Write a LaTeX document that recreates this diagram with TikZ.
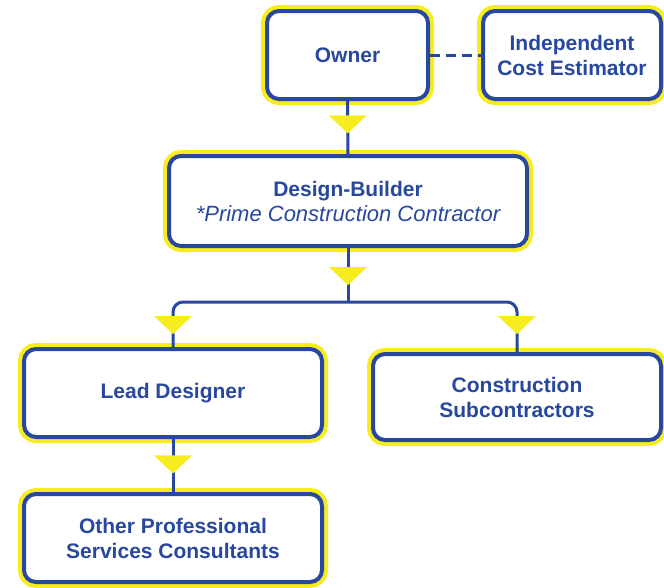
\documentclass[tikz,border=0pt]{standalone}
\usepackage{fontspec}
\setmainfont{Liberation Sans}
\usetikzlibrary{calc}
\definecolor{dbblue}{RGB}{40,72,160}
\definecolor{dbyellow}{RGB}{246,236,30}
\tikzset{
  box/.style={preaction={draw=dbyellow,line width=12pt},draw=dbblue,line width=4pt,fill=white,
    rounded corners=12pt,inner sep=0pt,align=center,text=dbblue,
    font=\fontsize{21}{25}\selectfont\bfseries},
  conn/.style={draw=dbblue,line width=3pt},
  tri/.style={fill=dbyellow}
}
\newcommand{\ytri}[1]{\fill[tri] ($(#1)+(-19,-9)$) -- ($(#1)+(19,-9)$) -- ($(#1)+(0,9)$) -- cycle;}
\begin{document}
\begin{tikzpicture}[x=1pt,y=-1pt]
\useasboundingbox (0,0) rectangle (664,587);
\node[box,minimum width=161pt,minimum height=88pt] (own) at (347.5,55) {Owner};
\node[box,minimum width=178pt,minimum height=88pt] (ice) at (572,55) {Independent\\Cost Estimator};
\node[box,minimum width=358pt,minimum height=90pt] (db) at (348,201) {Design-Builder\\{\mdseries\itshape\fontsize{22}{25}\selectfont *Prime Construction Contractor}};
\node[box,minimum width=298pt,minimum height=88pt] (ld) at (173,393) {Lead Designer};
\node[box,minimum width=288pt,minimum height=86pt] (cs) at (517,397) {Construction\\Subcontractors};
\node[box,minimum width=298pt,minimum height=88pt] (oth) at (173,538) {Other Professional\\Services Consultants};
% connectors
\draw[conn,dash pattern=on 10pt off 6pt] (own.east) -- (ice.west);
\draw[conn] (own.south) -- coordinate[pos=0.44] (t1) (db.north);
\draw[conn] (db.south) -- coordinate[pos=0.52] (t2) ++(0,54) coordinate (br);
\draw[conn,rounded corners=10pt] (ld.north) |- (br) -| (cs.north);
\coordinate (t3) at ($(ld.north)+(0,-22)$);
\coordinate (t4) at ($(cs.north)+(0,-27)$);
\draw[conn] (ld.south) -- coordinate[pos=0.48] (t5) (oth.north);
\ytri{t1}\ytri{t2}\ytri{t3}\ytri{t4}\ytri{t5}
\end{tikzpicture}
\end{document}
